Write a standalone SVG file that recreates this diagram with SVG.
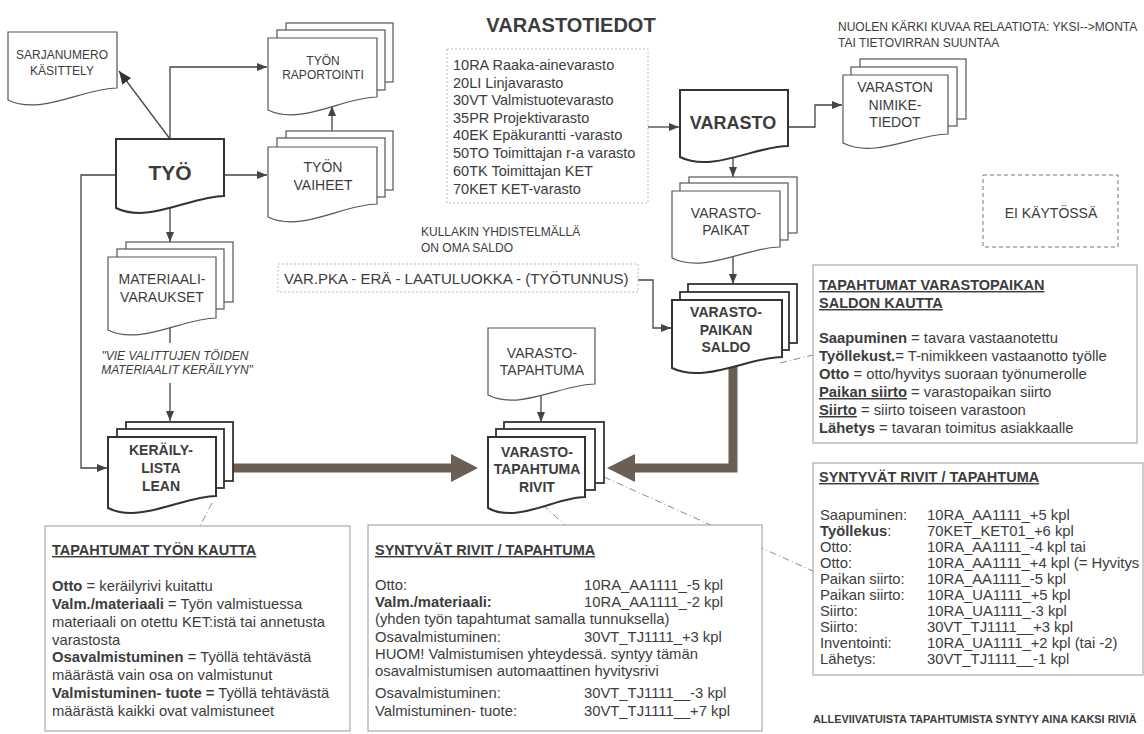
<svg xmlns="http://www.w3.org/2000/svg" width="1144" height="734" viewBox="0 0 1144 734">
  <defs>
    <style>
      text { font-family: "Liberation Sans", Arial, sans-serif; fill: #3c3c3c; }
      .lbl { font-size: 14px; text-anchor: middle; }
      .lbls { font-size: 12px; text-anchor: middle; }
      .lblb { font-size: 14px; font-weight: bold; text-anchor: middle; }
      .big { font-weight: bold; text-anchor: middle; }
      .doc { fill: #fff; stroke: #555; stroke-width: 1.2; }
      .docb { fill: #fff; stroke: #333; stroke-width: 2; }
      .pg { fill: #fff; stroke: #555; stroke-width: 1.2; }
      .pgb { fill: #fff; stroke: #333; stroke-width: 1.8; }
      .wire { fill: none; stroke: #444; stroke-width: 1.3; }
      .fat { fill: none; stroke: #6b5e54; stroke-width: 9; }
      .fathead { fill: #6b5e54; }
      .dashdot { fill: none; stroke: #8a8a8a; stroke-width: 1; stroke-dasharray: 7 3 1 3; }
      .box { fill: #fff; stroke: #999; stroke-width: 1; }
      .dotbox { fill: #fff; stroke: #bdbdbd; stroke-width: 1; stroke-dasharray: 2 2; }
      .body { font-size: 14.8px; }
      .ttl { font-size: 14.5px; font-weight: bold; text-decoration: underline; }
      .note { font-size: 12px; }
      .b { font-weight: bold; }
    </style>
    <marker id="ah" markerUnits="userSpaceOnUse" markerWidth="10" markerHeight="8" refX="10" refY="4" orient="auto">
      <path d="M0,0 L10,4 L0,8 z" fill="#444"/>
    </marker>
    <marker id="ahbig" markerUnits="userSpaceOnUse" markerWidth="13" markerHeight="11" refX="13" refY="5.5" orient="auto">
      <path d="M0,0 L13,5.5 L0,11 z" fill="#333"/>
    </marker>
  </defs>

  <rect width="1144" height="734" fill="#fff"/>

  <!-- connectors -->
  <g id="connectors">
    <path class="wire" d="M170,139 V67 H267" marker-end="url(#ah)"/>
    <path class="wire" d="M170,139 L119,71" stroke-width="2.4" stroke="#333" marker-end="url(#ahbig)"/>
    <path class="wire" d="M332,131 V106" marker-end="url(#ah)"/>
    <path class="wire" d="M224,175 H267" marker-end="url(#ah)"/>
    <path class="wire" d="M116,175 H81 V468 H107" marker-end="url(#ah)"/>
    <path class="wire" d="M170,206 V242" marker-end="url(#ah)"/>
    <path class="wire" d="M170,322 V343"/>
    <path class="wire" d="M170,383 V421" marker-end="url(#ah)"/>
    <path class="wire" d="M648,127 H679" marker-end="url(#ah)"/>
    <path class="wire" d="M788,127 H815 V105 H842" marker-end="url(#ah)"/>
    <path class="wire" d="M733,158 V177" marker-end="url(#ah)"/>
    <path class="wire" d="M733,253 V284" marker-end="url(#ah)"/>
    <path class="wire" d="M638,280 H653 V328 H671" marker-end="url(#ah)"/>
    <path class="wire" d="M541,392 V422" marker-end="url(#ah)"/>

    <!-- heavy flows into the transaction rows -->
    <path class="fat" d="M233,468 H454"/>
    <polygon class="fathead" points="451,454 478,468 451,482"/>
    <path class="fat" d="M733,362 V468 H632"/>
    <polygon class="fathead" points="635,454 607,468 635,482"/>

    <!-- annotation leaders -->
    <path class="dashdot" d="M780,363 L813,355"/>
    <path class="dashdot" d="M604,477 L815,572"/>
    <path class="dashdot" d="M543,505 L565,525"/>
    <path class="dashdot" d="M212,503 L200,526"/>
  </g>

  <!-- SARJANUMERO KÄSITTELY -->
  <g id="sarjanumero">
    <path class="doc" d="M8,32 H117 V88 C84,88 41,116 8,100 Z"/>
    <text class="lbls" x="62" y="59">SARJANUMERO</text>
    <text class="lbls" x="62" y="75">KÄSITTELY</text>
  </g>

  <!-- TYÖN RAPORTOINTI -->
  <g id="tyon-raportointi">
    <rect class="pg" x="286" y="23" width="107" height="59"/>
    <rect class="pg" x="277" y="30" width="108" height="60"/>
    <path class="doc" d="M268,38 H377 V97 C344,97 301,126 268,110 Z"/>
    <text class="lbls" x="323" y="65">TYÖN</text>
    <text class="lbls" x="323" y="79">RAPORTOINTI</text>
  </g>

  <!-- TYÖ -->
  <g id="tyo">
    <path class="docb" d="M116,139 H224 V196 C192,196 148,224 116,208 Z"/>
    <text class="big" x="170" y="180" font-size="21">TYÖ</text>
  </g>

  <!-- TYÖN VAIHEET -->
  <g id="tyon-vaiheet">
    <rect class="pg" x="286" y="131" width="107" height="59"/>
    <rect class="pg" x="277" y="138" width="108" height="59"/>
    <path class="doc" d="M268,147 H377 V204 C344,204 301,233 268,217 Z"/>
    <text class="lbl" x="323" y="172">TYÖN</text>
    <text class="lbl" x="323" y="190">VAIHEET</text>
  </g>

  <!-- MATERIAALIVARAUKSET -->
  <g id="materiaalivaraukset">
    <rect class="pg" x="126" y="242" width="107" height="60"/>
    <rect class="pg" x="117" y="249" width="107" height="60"/>
    <path class="doc" d="M108,257 H216 V318 C184,318 140,346 108,330 Z"/>
    <text class="lbl" x="162" y="284">MATERIAALI-</text>
    <text class="lbl" x="162" y="302">VARAUKSET</text>
  </g>

  <g id="keraily-note">
    <text x="175" y="360" font-size="12" font-style="italic" text-anchor="middle">"VIE VALITTUJEN TÖIDEN</text>
    <text x="177" y="374" font-size="12" font-style="italic" text-anchor="middle">MATERIAALIT KERÄILYYN"</text>
  </g>

  <!-- KERÄILYLISTA LEAN -->
  <g id="keraily">
    <rect class="pgb" x="126" y="422" width="107" height="59"/>
    <rect class="pgb" x="117" y="429" width="107" height="59"/>
    <path class="docb" d="M108,437 H216 V496 C184,496 140,524 108,508 Z"/>
    <text class="lblb" x="161" y="455">KERÄILY-</text>
    <text class="lblb" x="161" y="473">LISTA</text>
    <text class="lblb" x="161" y="491">LEAN</text>
  </g>

  <!-- warehouse list -->
  <g id="varastotiedot">
    <text class="big" x="571" y="32" font-size="20">VARASTOTIEDOT</text>
    <rect class="dotbox" x="447" y="49" width="201" height="154"/>
    <g font-size="14.5">
      <text x="453" y="70">10RA Raaka-ainevarasto</text>
      <text x="453" y="88">20LI Linjavarasto</text>
      <text x="453" y="105">30VT Valmistuotevarasto</text>
      <text x="453" y="123">35PR Projektivarasto</text>
      <text x="453" y="140">40EK Epäkurantti -varasto</text>
      <text x="453" y="158">50TO Toimittajan r-a varasto</text>
      <text x="453" y="176">60TK Toimittajan KET</text>
      <text x="453" y="194">70KET KET-varasto</text>
    </g>
  </g>

  <!-- VARASTO -->
  <g id="varasto">
    <path class="docb" d="M680,90 H788 V146 C756,146 712,173 680,157 Z"/>
    <text class="big" x="733" y="129" font-size="18">VARASTO</text>
  </g>

  <!-- VARASTON NIMIKETIEDOT -->
  <g id="nimiketiedot">
    <rect class="pg" x="860" y="59" width="106" height="60"/>
    <rect class="pg" x="851" y="67" width="106" height="59"/>
    <path class="doc" d="M843,75 H948 V134 C916,134 875,159 843,143 Z"/>
    <text class="lbl" x="895" y="92">VARASTON</text>
    <text class="lbl" x="895" y="110">NIMIKE-</text>
    <text class="lbl" x="895" y="127">TIEDOT</text>
  </g>

  <g id="legend-note">
    <text class="note" x="838" y="31">NUOLEN KÄRKI KUVAA RELAATIOTA: YKSI--&gt;MONTA</text>
    <text class="note" x="838" y="47">TAI TIETOVIRRAN SUUNTAA</text>
  </g>

  <!-- EI KÄYTÖSSÄ -->
  <g id="ei-kaytossa">
    <rect x="983" y="175" width="135" height="72" fill="#fff" stroke="#777" stroke-width="1" stroke-dasharray="4 3"/>
    <text class="lbl" x="1051" y="218">EI KÄYTÖSSÄ</text>
  </g>

  <!-- VARASTOPAIKAT -->
  <g id="varastopaikat">
    <rect class="pg" x="689" y="177" width="108" height="56"/>
    <rect class="pg" x="680" y="183" width="108" height="57"/>
    <path class="doc" d="M672,191 H780 V247 C748,247 704,274 672,258 Z"/>
    <text class="lbl" x="726" y="218">VARASTO-</text>
    <text class="lbl" x="726" y="235">PAIKAT</text>
  </g>

  <g id="saldo-note">
    <text class="note" x="421" y="236">KULLAKIN YHDISTELMÄLLÄ</text>
    <text class="note" x="421" y="252">ON OMA SALDO</text>
  </g>

  <g id="saldo-key">
    <rect class="dotbox" x="278" y="264" width="360" height="28"/>
    <text x="284" y="284" font-size="15">VAR.PKA - ERÄ - LAATULUOKKA - (TYÖTUNNUS)</text>
  </g>

  <!-- VARASTOPAIKAN SALDO -->
  <g id="varastopaikan-saldo">
    <rect class="pgb" x="688" y="284" width="109" height="59"/>
    <rect class="pgb" x="680" y="292" width="109" height="58"/>
    <path class="docb" d="M672,300 H782 V357 C749,357 705,384 672,368 Z"/>
    <text class="lblb" x="726" y="317">VARASTO-</text>
    <text class="lblb" x="726" y="335">PAIKAN</text>
    <text class="lblb" x="726" y="352">SALDO</text>
  </g>

  <!-- VARASTOTAPAHTUMA -->
  <g id="varastotapahtuma">
    <path class="doc" d="M488,328 H595 V384 C563,384 520,411 488,395 Z"/>
    <text class="lbl" x="542" y="358">VARASTO-</text>
    <text class="lbl" x="542" y="375">TAPAHTUMA</text>
  </g>

  <!-- VARASTOTAPAHTUMA RIVIT -->
  <g id="tapahtumarivit">
    <rect class="pgb" x="504" y="422" width="100" height="61"/>
    <rect class="pgb" x="496" y="429" width="99" height="61"/>
    <path class="docb" d="M488,437 H585 V497 C556,497 517,524 488,508 Z"/>
    <text class="lblb" x="537" y="457">VARASTO-</text>
    <text class="lblb" x="537" y="474">TAPAHTUMA</text>
    <text class="lblb" x="537" y="492">RIVIT</text>
  </g>

  <!-- transactions through stock location balance -->
  <g id="tapahtumat-saldo">
    <rect class="box" x="813" y="265" width="324" height="178"/>
    <text class="ttl" x="819" y="290">TAPAHTUMAT VARASTOPAIKAN</text>
    <text class="ttl" x="819" y="308">SALDON KAUTTA</text>
    <g class="body">
      <text x="819" y="343"><tspan class="b">Saapuminen</tspan> = tavara vastaanotettu</text>
      <text x="819" y="361"><tspan class="b">Työllekust.</tspan>= T-nimikkeen vastaanotto työlle</text>
      <text x="819" y="379"><tspan class="b">Otto</tspan> = otto/hyvitys suoraan työnumerolle</text>
      <text x="819" y="397"><tspan class="b" text-decoration="underline">Paikan siirto</tspan> = varastopaikan siirto</text>
      <text x="819" y="415"><tspan class="b" text-decoration="underline">Siirto</tspan> = siirto toiseen varastoon</text>
      <text x="819" y="433"><tspan class="b">Lähetys</tspan> = tavaran toimitus asiakkaalle</text>
    </g>
  </g>

  <!-- rows generated per transaction (stock) -->
  <g id="rivit-saldo">
    <rect class="box" x="813" y="463" width="330" height="212"/>
    <text class="ttl" x="819" y="482">SYNTYVÄT RIVIT / TAPAHTUMA</text>
    <g class="body">
      <text x="820" y="520">Saapuminen:</text>
      <text x="820" y="536" class="b">Työllekus<tspan font-weight="normal">:</tspan></text>
      <text x="820" y="552">Otto:</text>
      <text x="820" y="568">Otto:</text>
      <text x="820" y="584">Paikan siirto:</text>
      <text x="820" y="600">Paikan siirto:</text>
      <text x="820" y="616">Siirto:</text>
      <text x="820" y="632">Siirto:</text>
      <text x="820" y="648">Inventointi:</text>
      <text x="820" y="664">Lähetys:</text>
      <text x="927" y="520">10RA_AA1111_+5 kpl</text>
      <text x="927" y="536">70KET_KET01_+6 kpl</text>
      <text x="927" y="552">10RA_AA1111_-4 kpl tai</text>
      <text x="927" y="568">10RA_AA1111_+4 kpl (= Hyvitys</text>
      <text x="927" y="584">10RA_AA1111_-5 kpl</text>
      <text x="927" y="600">10RA_UA1111_+5 kpl</text>
      <text x="927" y="616">10RA_UA1111_-3 kpl</text>
      <text x="927" y="632">30VT_TJ1111__+3 kpl</text>
      <text x="927" y="648">10RA_UA1111_+2 kpl (tai -2)</text>
      <text x="927" y="664">30VT_TJ1111__-1 kpl</text>
    </g>
  </g>

  <text x="813" y="723" font-size="10.9" font-weight="bold" fill="#333">ALLEVIIVATUISTA TAPAHTUMISTA SYNTYY AINA KAKSI RIVIÄ</text>

  <!-- transactions through work orders -->
  <g id="tapahtumat-tyo">
    <rect class="box" x="45" y="526" width="305" height="205"/>
    <text class="ttl" x="52" y="555">TAPAHTUMAT TYÖN KAUTTA</text>
    <g class="body">
      <text x="52" y="591"><tspan class="b">Otto</tspan> = keräilyrivi kuitattu</text>
      <text x="52" y="609"><tspan class="b">Valm./materiaali</tspan> = Työn valmistuessa</text>
      <text x="52" y="627">materiaali on otettu KET:istä tai annetusta</text>
      <text x="52" y="645">varastosta</text>
      <text x="52" y="662"><tspan class="b">Osavalmistuminen</tspan> = Työllä tehtävästä</text>
      <text x="52" y="680">määrästä vain osa on valmistunut</text>
      <text x="52" y="698"><tspan class="b">Valmistuminen- tuote =</tspan> Työllä tehtävästä</text>
      <text x="52" y="716">määrästä kaikki ovat valmistuneet</text>
    </g>
  </g>

  <!-- rows generated per transaction (work) -->
  <g id="rivit-tyo">
    <rect class="box" x="368" y="525" width="394" height="206"/>
    <text class="ttl" x="375" y="555">SYNTYVÄT RIVIT / TAPAHTUMA</text>
    <g class="body">
      <text x="375" y="590">Otto:</text>
      <text x="584" y="590">10RA_AA1111_-5 kpl</text>
      <text x="375" y="607" class="b">Valm./materiaali:</text>
      <text x="584" y="607">10RA_AA1111_-2 kpl</text>
      <text x="375" y="624">(yhden työn tapahtumat samalla tunnuksella)</text>
      <text x="375" y="642">Osavalmistuminen:</text>
      <text x="584" y="642">30VT_TJ1111_+3 kpl</text>
      <text x="375" y="659">HUOM! Valmistumisen yhteydessä. syntyy tämän</text>
      <text x="375" y="676">osavalmistumisen automaattinen hyvitysrivi</text>
      <text x="375" y="698">Osavalmistuminen:</text>
      <text x="584" y="698">30VT_TJ1111__-3 kpl</text>
      <text x="375" y="716">Valmistuminen- tuote:</text>
      <text x="584" y="716">30VT_TJ1111__+7 kpl</text>
    </g>
  </g>
</svg>
